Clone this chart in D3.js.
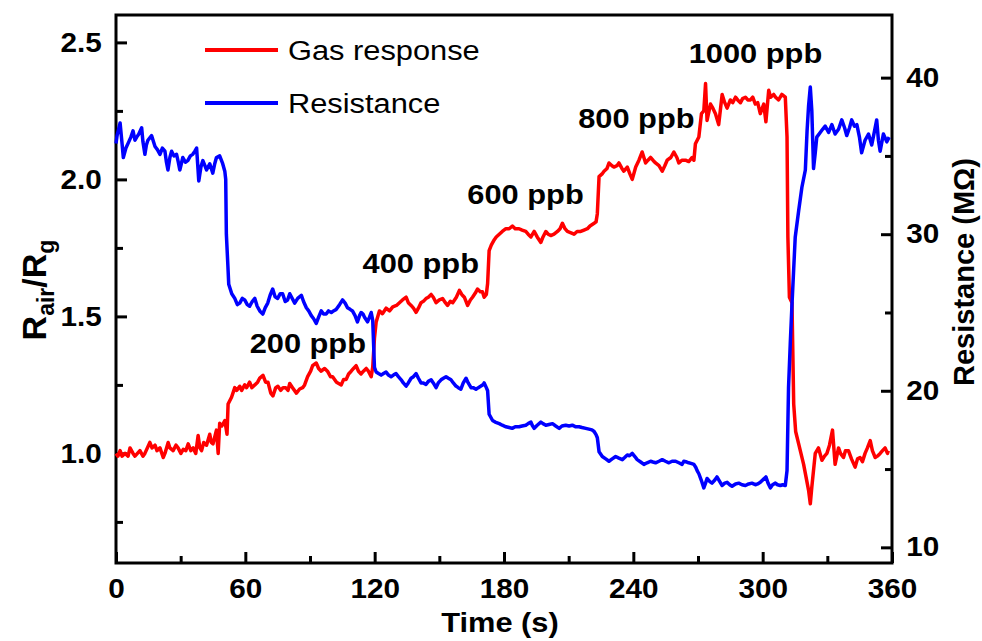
<!DOCTYPE html>
<html>
<head>
<meta charset="utf-8">
<script src="https://cdn.jsdelivr.net/npm/d3@7"></script>
<style>
  body { margin: 0; background: #fff; }
  text { font-family: "Liberation Sans", Arial, sans-serif; }
</style>
</head>
<body>
<div id="chart"></div>
<script>
// ---- data ----
// gas response R_air/R_g vs time (s)
const gasResponse = [
  [0,1.00],[0.9,0.99],[1.9,1.01],[2.8,0.99],[4.2,1.00],[5.6,0.99],[6.5,1.02],[7.9,1.00],[8.8,0.99],[11.1,1.01],
  [12.5,0.99],[13.4,1.00],[15.7,1.04],[16.7,1.02],[18.1,1.03],[19,1.01],[20.4,1.02],[21.9,0.985],[22.7,1.00],[24.2,1.04],
  [25,1.02],[26.5,1.01],[27.8,1.03],[28.8,1.02],[30.1,1.00],[31.2,1.015],[32.4,1.01],[33.5,1.035],[34.7,1.01],[35.8,1.02],
  [37,1.00],[38.1,1.065],[38.9,1.02],[39.7,1.01],[40.7,1.04],[42,1.03],[43.5,1.07],[44.2,1.04],[45,1.035],[46.6,1.085],
  [47.4,1.00],[48.1,1.11],[49.1,1.10],[50.5,1.12],[51.5,1.07],[52,1.18],[53.6,1.205],[55.1,1.24],[56,1.23],[57.4,1.245],
  [58.3,1.23],[59.7,1.25],[60.6,1.24],[62,1.26],[63,1.24],[64.4,1.25],[65.7,1.26],[66.7,1.275],[68.2,1.285],[69.4,1.26],
  [70.5,1.26],[71.8,1.22],[72.8,1.21],[74.1,1.24],[75.1,1.245],[76.4,1.23],[77.5,1.24],[78.7,1.24],[79.8,1.23],[80.6,1.255],
  [81.9,1.24],[83.7,1.22],[85.2,1.235],[86.6,1.24],[87.5,1.25],[88.9,1.28],[90.3,1.30],[91.2,1.32],[92.9,1.33],[94,1.31],
  [95.2,1.30],[96.8,1.31],[98.1,1.30],[99.5,1.28],[100.5,1.28],[102.3,1.26],[104.5,1.25],[105.6,1.27],[106.8,1.27],[107.9,1.29],
  [109.1,1.30],[110.2,1.31],[111.4,1.32],[112.5,1.30],[113.7,1.29],[114.8,1.30],[116.1,1.31],[117.1,1.30],[118.4,1.28],[119.1,1.315],
  [119.9,1.42],[120.7,1.48],[122.2,1.52],[123.6,1.51],[125.3,1.53],[126.9,1.52],[128.4,1.535],[130.1,1.54],[131.5,1.55],[132.9,1.56],
  [134.6,1.57],[135.6,1.55],[136.9,1.54],[138,1.53],[139.2,1.515],[140.3,1.53],[141.5,1.55],[142.6,1.555],[143.8,1.565],[144.9,1.57],
  [146.2,1.58],[147.2,1.57],[148.5,1.55],[150,1.56],[151.5,1.565],[152.8,1.55],[153.8,1.54],[155.1,1.555],[156.2,1.55],[157.9,1.57],
  [159.3,1.595],[160.4,1.58],[161.6,1.57],[163.1,1.54],[164.4,1.56],[165.4,1.57],[166.7,1.585],[167.7,1.60],[169,1.59],[170,1.59],
  [170.8,1.57],[171.8,1.58],[172.4,1.62],[173.1,1.74],[174.1,1.76],[175.5,1.78],[176.4,1.79],[177.8,1.80],[179.2,1.81],[180.9,1.82],
  [182.4,1.82],[183.9,1.83],[185.2,1.82],[187,1.82],[188.4,1.815],[190.1,1.81],[191.2,1.80],[192.5,1.79],[194,1.81],[195.4,1.79],
  [197.1,1.77],[198.1,1.79],[199.4,1.81],[200.5,1.80],[201.7,1.795],[203.2,1.80],[204.8,1.81],[206,1.82],[207.1,1.84],[208.3,1.82],
  [209.4,1.81],[211.1,1.805],[212.5,1.80],[213.9,1.81],[215.6,1.81],[217.1,1.815],[218.7,1.82],[219.9,1.83],[221.8,1.84],[222.7,1.845],
  [223.3,1.875],[224.1,2.01],[225.5,2.02],[226.4,2.03],[227.8,2.04],[228.7,2.06],[230.1,2.05],[231,2.045],[232.4,2.05],[233.3,2.06],
  [234.7,2.04],[235.6,2.03],[237.2,2.045],[238.4,2.02],[239.5,2.00],[241.1,2.045],[242.6,2.07],[244.1,2.10],[245.7,2.06],[246.8,2.07],
  [248,2.08],[249.1,2.07],[250.3,2.06],[251.9,2.05],[253.4,2.03],[254.6,2.05],[255.7,2.07],[257.4,2.08],[258.8,2.10],[260.2,2.08],
  [261.1,2.06],[262.5,2.07],[264.2,2.07],[265.7,2.065],[267.3,2.08],[268.1,2.07],[268.8,2.13],[270.4,2.155],[271.6,2.24],[272.7,2.25],
  [273.5,2.35],[274.2,2.215],[275.8,2.275],[276.9,2.26],[278.1,2.24],[279.6,2.20],[281.2,2.31],[282.4,2.28],[283.5,2.26],[285,2.29],
  [286.1,2.28],[287.4,2.30],[288.4,2.29],[289.7,2.28],[290.7,2.295],[292,2.30],[293.1,2.29],[294.3,2.29],[295.4,2.30],[296.6,2.275],
  [297.7,2.28],[298.9,2.24],[300.5,2.275],[301.5,2.21],[302.8,2.325],[303.7,2.30],[305.1,2.31],[306,2.30],[307.4,2.29],[308.9,2.31],
  [310.5,2.30],[311.3,2.155],[311.7,1.79],[312.4,1.57],[313.6,1.55],[314.4,1.18],[315.3,1.08],[316.7,1.035],[319,0.96],[321.3,0.865],
  [322.1,0.816],[322.8,0.877],[324.4,1.00],[325.9,1.02],[327.5,0.975],[328.7,0.99],[329.8,1.00],[331,1.03],[332.4,1.085],[333.6,0.96],
  [335.2,1.02],[336.1,1.00],[337.5,0.985],[338.4,1.01],[339.8,1.01],[341.2,0.98],[342.9,0.95],[344,0.98],[345.2,0.985],[346.3,0.97],
  [347.5,1.00],[348.6,1.02],[349.9,1.047],[350.9,1.01],[352.2,0.985],[353.2,0.99],[354.5,1.00],[355.6,1.01],[356.8,1.02],[357.9,1.00],
  [358.3,1.01]
];

// resistance (MOhm) vs time (s)
const resistance = [
  [0,35.8],[0.5,36.3],[1.9,37.1],[2.8,35.8],[3.4,34.9],[4.6,35.5],[5.6,35.8],[6.9,36.2],[7.9,36.6],[8.8,36.0],
  [9.6,36.2],[10.6,36.4],[11.9,36.8],[12.5,35.9],[13.4,35.1],[14.1,35.7],[14.8,36.0],[16.5,36.3],[17.4,35.9],[18.1,35.6],
  [19.2,35.4],[20.4,35.1],[21.5,35.5],[22.7,35.3],[23.4,34.6],[24.1,34.1],[25,34.9],[25.8,35.3],[26.9,35.0],[28.1,35.1],
  [28.9,34.6],[29.6,34.1],[31,34.9],[32.2,34.6],[33.3,34.7],[34.5,35.0],[35.6,35.1],[36.6,35.3],[37.4,35.5],[38.4,33.4],
  [39.4,34.3],[40.3,34.7],[41.2,34.4],[42,34.1],[43.5,34.5],[44.9,33.9],[45.8,34.5],[46.6,34.9],[48.1,35.0],[49.5,34.5],
  [50.5,34.0],[50.9,33.5],[51.2,30.0],[51.9,28.0],[52.3,26.8],[53.7,26.2],[55.1,25.9],[56.3,25.5],[57.4,25.6],[58.6,25.9],
  [59.7,25.8],[60.9,25.5],[62,25.4],[63.2,25.7],[64.4,25.9],[65.5,25.4],[66.7,25.1],[68.1,24.9],[69.2,25.3],[70.4,25.6],
  [71.5,26.1],[72.7,26.5],[73.8,26.0],[75,25.9],[76.2,26.2],[77.3,26.2],[78.5,25.7],[79.6,25.8],[80.6,26.2],[82.9,25.6],
  [84.3,25.9],[86,26.1],[87,25.7],[88.3,25.3],[89.4,25.1],[90.6,24.8],[91.7,24.6],[92.9,24.3],[94,24.7],[95.2,25.1],
  [96.3,24.9],[97.5,24.9],[98.6,25.1],[99.9,25.0],[100.9,25.1],[102.2,25.2],[103.7,25.5],[105.1,25.8],[106.3,25.6],[107.4,25.3],
  [108.6,25.2],[109.7,25.1],[110.9,24.8],[112,24.4],[113,24.8],[113.7,25.0],[114.6,24.9],[115.3,24.7],[116.7,24.4],[117.6,24.7],
  [118.4,25.0],[119.1,24.5],[119.9,21.5],[120.7,21.2],[121.8,21.1],[123,21.0],[124.1,21.1],[125.3,21.2],[126.4,21.0],[127.6,20.9],
  [128.7,21.0],[129.9,21.1],[131,20.9],[132.3,20.7],[133.3,20.5],[134.6,20.3],[135.6,20.5],[136.9,20.8],[138,20.9],[139.2,21.1],
  [140.3,20.8],[141.5,20.5],[142.6,20.5],[143.8,20.4],[144.9,20.6],[146.2,20.7],[147.2,20.5],[148.5,20.2],[149.5,20.5],[150.8,20.7],
  [151.9,20.8],[153.1,20.9],[154.2,20.8],[155.4,20.7],[156.5,20.5],[157.7,20.3],[158.8,20.2],[160,20.1],[161.1,20.5],[162.4,20.8],
  [163.4,20.5],[164.7,20.2],[165.7,20.2],[167,20.1],[168.1,20.2],[169.3,20.3],[170.4,20.4],[170.8,20.5],[171.8,20.2],[172.4,20.0],
  [173.1,18.5],[174.7,18.1],[175.9,18.0],[177.8,17.9],[179.2,17.8],[180.9,17.7],[182.4,17.65],[183.8,17.6],[185.2,17.7],[187,17.7],
  [188.4,17.75],[190.1,17.8],[191.2,17.9],[192.5,18.0],[193.1,17.8],[194,17.6],[195.4,17.8],[197.1,18.0],[198.1,17.9],[199.4,17.8],
  [200.9,17.85],[202.5,17.9],[204,17.75],[205.6,17.6],[206.9,17.75],[208.6,17.8],[210.2,17.75],[211.7,17.8],[213.3,17.7],[214.8,17.7],
  [216.2,17.65],[217.9,17.6],[219.4,17.55],[220.8,17.5],[221.8,17.4],[222.7,17.2],[223.3,17.0],[224.1,16.1],[225.6,15.8],[227.2,15.65],
  [228.7,15.5],[230.2,15.65],[231.8,15.8],[233.3,15.7],[234.9,15.6],[236.1,15.75],[237.2,15.9],[238.2,15.85],[239.5,16.0],[240.7,15.8],
  [241.8,15.6],[243.4,15.45],[244.9,15.3],[246.4,15.4],[248,15.5],[249.1,15.45],[250.3,15.4],[251.9,15.5],[253.4,15.6],[254.9,15.5],
  [256.5,15.4],[258,15.5],[259.6,15.5],[261.1,15.4],[262.6,15.3],[263.4,15.5],[264.8,15.45],[265.7,15.4],[267.1,15.35],[268.1,15.3],
  [269,15.1],[269.6,14.9],[270.4,14.7],[271.5,14.3],[272.7,13.8],[273.5,14.1],[274.2,14.4],[275.5,14.2],[276.5,14.1],[277.8,14.3],
  [278.8,14.5],[280.1,14.2],[281.2,13.95],[282.4,14.1],[283.5,14.15],[284.7,14.0],[285.8,13.9],[287.4,14.05],[288.9,14.1],[290.4,14.0],
  [292,13.95],[293.5,14.05],[295,14.1],[296.6,14.0],[297.7,14.05],[298.9,14.15],[300,14.3],[301.5,14.5],[302.5,14.1],[303.6,13.8],
  [304.6,14.0],[305.9,14.1],[306.9,14.0],[308.2,13.95],[309.3,14.0],[310.5,13.95],[311.3,14.9],[312,20.2],[312.8,23.0],[313.6,25.5],
  [314.4,27.8],[315.1,29.8],[316.7,31.5],[318.2,33.0],[319.8,34.1],[320.6,36.6],[321.3,38.2],[322.1,39.4],[322.8,37.9],[323.6,34.2],
  [324.4,35.2],[325.1,36.2],[326.7,36.5],[327.8,36.7],[329,36.9],[330.6,36.5],[332.1,37.0],[333.6,36.4],[335.2,36.7],[336.7,37.3],
  [338,36.8],[339,36.3],[340.3,36.8],[341.3,37.3],[342.6,36.9],[343.7,37.0],[344.9,36.2],[345.9,35.2],[347.5,36.0],[349.1,36.4],
  [350.6,35.7],[351.9,36.6],[352.9,37.3],[353.7,36.0],[354.5,35.3],[356,36.4],[357.6,35.9],[358.7,36.2]
];

const xTicks = [0, 60, 120, 180, 240, 300, 360];
const xMinorTicks = [30, 90, 150, 210, 270, 330];
const leftTicks = [1.0, 1.5, 2.0, 2.5];
const leftMinorTicks = [0.75, 1.25, 1.75, 2.25];
const rightTicks = [10, 20, 30, 40];
const rightMinorTicks = [15, 25, 35];

const concLabels = ["200 ppb", "400 ppb", "600 ppb", "800 ppb", "1000 ppb"];
// anchor of each label (time, R_air/R_g at the text baseline)
const concAnchors = [[62, 1.365], [114.4, 1.66], [163, 1.912], [214.4, 2.186], [265.7, 2.423]];

const seriesNames = ["Gas response", "Resistance"];
const seriesColors = ["#ff0000", "#0000ff"];

// ---- layout ----
const W = 982, H = 641;
const margin = { top: 15, right: 90, bottom: 78, left: 116 };
const width = W - margin.left - margin.right;
const height = H - margin.top - margin.bottom;
const stretch = 1.1; // the figure's lettering is a bit wide

const svg = d3.select("#chart").append("svg")
    .attr("width", W)
    .attr("height", H);

const g = svg.append("g")
    .attr("transform", `translate(${margin.left},${margin.top})`);

const x = d3.scaleLinear().domain([0, 360]).range([0, width]);
const yLeft = d3.scaleLinear().domain([0.6, 2.6]).range([height, 0]);
const yRight = d3.scaleLinear().domain([9, 44]).range([height, 0]);

// ticks (inward)
function styleAxis(sel, scaleText) {
    sel.select(".domain").remove();
    sel.selectAll(".tick line").attr("stroke", "#000").attr("stroke-width", 3);
    sel.selectAll(".tick text")
        .attr("fill", "#000")
        .style("font-size", "27px")
        .style("font-weight", "bold")
        .attr("transform", scaleText ? `scale(${stretch},1)` : null);
}

g.append("g").attr("transform", `translate(0,${height})`)
    .call(d3.axisBottom(x).tickValues(xTicks).tickFormat(d3.format("d")).tickSize(-11).tickPadding(16))
    .call(sel => styleAxis(sel, true));
g.append("g").attr("transform", `translate(0,${height})`)
    .call(d3.axisBottom(x).tickValues(xMinorTicks).tickFormat("").tickSize(-7))
    .call(sel => styleAxis(sel, false));

g.append("g")
    .call(d3.axisLeft(yLeft).tickValues(leftTicks).tickFormat(d3.format(".1f")).tickSize(-11).tickPadding(13))
    .call(sel => styleAxis(sel, true));
g.append("g")
    .call(d3.axisLeft(yLeft).tickValues(leftMinorTicks).tickFormat("").tickSize(-7))
    .call(sel => styleAxis(sel, false));

g.append("g").attr("transform", `translate(${width},0)`)
    .call(d3.axisRight(yRight).tickValues(rightTicks).tickFormat(d3.format("d")).tickSize(-11).tickPadding(13))
    .call(sel => styleAxis(sel, true));
g.append("g").attr("transform", `translate(${width},0)`)
    .call(d3.axisRight(yRight).tickValues(rightMinorTicks).tickFormat("").tickSize(-7))
    .call(sel => styleAxis(sel, false));

// frame
g.append("rect")
    .attr("width", width)
    .attr("height", height)
    .attr("fill", "none")
    .attr("stroke", "#000")
    .attr("stroke-width", 3);

// lines
const lineLeft = d3.line().x(d => x(d[0])).y(d => yLeft(d[1]));
const lineRight = d3.line().x(d => x(d[0])).y(d => yRight(d[1]));

g.append("path")
    .datum(gasResponse)
    .attr("d", lineLeft)
    .attr("fill", "none")
    .attr("stroke", seriesColors[0])
    .attr("stroke-width", 3.5)
    .attr("stroke-linejoin", "round");

g.append("path")
    .datum(resistance)
    .attr("d", lineRight)
    .attr("fill", "none")
    .attr("stroke", seriesColors[1])
    .attr("stroke-width", 3.5)
    .attr("stroke-linejoin", "round");

// concentration labels
g.selectAll(".conc")
    .data(concLabels)
    .enter()
    .append("text")
    .attr("class", "conc")
    .attr("transform", (d, i) => `translate(${x(concAnchors[i][0])},${yLeft(concAnchors[i][1])}) scale(${stretch},1)`)
    .attr("fill", "#000")
    .style("font-size", "28px")
    .style("font-weight", "bold")
    .text(d => d);

// legend
const legend = svg.append("g").attr("transform", "translate(205,50)");
seriesNames.forEach((name, i) => {
    const row = legend.append("g").attr("transform", `translate(0,${i * 53})`);
    row.append("line")
        .attr("x1", 0).attr("x2", 73)
        .attr("stroke", seriesColors[i])
        .attr("stroke-width", 4);
    row.append("text")
        .attr("transform", `translate(83,10) scale(${stretch},1)`)
        .attr("fill", "#000")
        .style("font-size", "28px")
        .text(name);
});

// axis titles
svg.append("text")
    .attr("transform", `translate(500,632) scale(${stretch},1)`)
    .attr("text-anchor", "middle")
    .style("font-size", "28px")
    .style("font-weight", "bold")
    .text("Time (s)");

const yTitle = svg.append("text")
    .attr("transform", "translate(46,290) rotate(-90)")
    .attr("text-anchor", "middle")
    .style("font-size", "34px")
    .style("font-weight", "bold");
yTitle.append("tspan").text("R");
yTitle.append("tspan").attr("dy", 8).style("font-size", "23px").text("air");
yTitle.append("tspan").attr("dy", -8).text("/R");
yTitle.append("tspan").attr("dy", 8).style("font-size", "23px").text("g");

svg.append("text")
    .attr("transform", "translate(974,272) rotate(-90)")
    .attr("text-anchor", "middle")
    .style("font-size", "29px")
    .style("font-weight", "bold")
    .text("Resistance (MΩ)");
</script>
</body>
</html>
